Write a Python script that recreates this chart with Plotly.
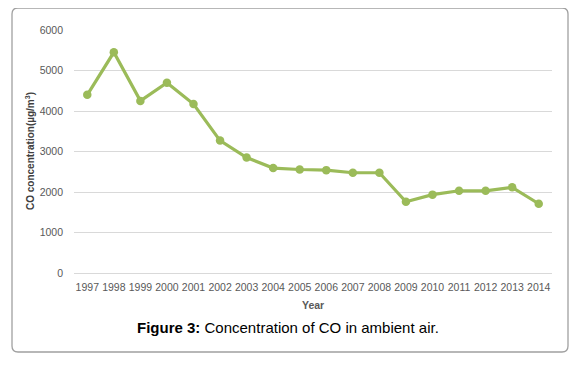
import plotly.graph_objects as go

years = [str(y) for y in range(1997, 2015)]
co_values = [4400, 5450, 4250, 4700, 4170, 3270, 2850, 2590, 2555, 2540, 2475, 2475,
             1760, 1935, 2030, 2030, 2115, 1710]
y_ticks = [0, 1000, 2000, 3000, 4000, 5000, 6000]

# page body has an 8px margin; lay out in page coordinates and compensate
OFF = 8
W, H = 582, 366
PL, PR, PT, PB = 74, 552, 30, 273   # plot area in page pixels
L, T = PL - OFF, PT - OFF
pw, ph = PR - PL, PB - PT
R = W - L - pw
B = H - T - ph

def px(x):
    return (x - PL) / pw

def py(y):
    return (PB - y) / ph

fig = go.Figure()
fig.add_trace(go.Scatter(
    x=years, y=co_values, mode="lines+markers",
    line=dict(color="#9BBB59", width=3.2),
    marker=dict(color="#9BBB59", size=8.5),
    showlegend=False, hoverinfo="x+y",
))

# rounded frame
x0, y0, x1, y1, r = 12, 8, 568, 352, 6
path = (f"M {px(x0+r)},{py(y0)} L {px(x1-r)},{py(y0)} "
        f"Q {px(x1)},{py(y0)} {px(x1)},{py(y0+r)} "
        f"L {px(x1)},{py(y1-r)} Q {px(x1)},{py(y1)} {px(x1-r)},{py(y1)} "
        f"L {px(x0+r)},{py(y1)} Q {px(x0)},{py(y1)} {px(x0)},{py(y1-r)} "
        f"L {px(x0)},{py(y0+r)} Q {px(x0)},{py(y0)} {px(x0+r)},{py(y0)} Z")
fig.add_shape(type="path", path=path, xref="paper", yref="paper",
              line=dict(color="#A0A0A0", width=1.3), layer="below")

FONT = "Liberation Sans, Arial, sans-serif"
tick_font = dict(family=FONT, size=10.5, color="#595959")

fig.update_layout(
    width=W, height=H,
    margin=dict(l=L, r=R, t=T, b=B, autoexpand=False),
    paper_bgcolor="white", plot_bgcolor="white",
    xaxis=dict(
        type="category", range=[-0.5, len(years) - 0.5],
        showgrid=False, showline=False, ticks="", automargin=False,
        tickfont=tick_font, ticklabelstandoff=6, tickangle=0,
    ),
    yaxis=dict(
        range=[0, 6000], tickvals=y_ticks, ticktext=[str(v) for v in y_ticks],
        showgrid=True, gridcolor="#D9D9D9", gridwidth=1, automargin=False,
        zeroline=True, zerolinecolor="#D9D9D9", zerolinewidth=1,
        showline=False, ticks="", tickfont=tick_font, ticklabelstandoff=10,
    ),
    annotations=[
        dict(text="<b>CO concentration(µg/m<sup>3</sup>)</b>", textangle=-90,
             xref="paper", yref="paper", x=px(30), y=py(151),
             xanchor="center", yanchor="middle", showarrow=False,
             font=dict(family=FONT, size=10, color="#404040")),
        dict(text="<b>Year</b>",
             xref="paper", yref="paper", x=px(313), y=py(305),
             xanchor="center", yanchor="middle", showarrow=False,
             font=dict(family=FONT, size=10.5, color="#595959")),
        dict(text="<b>Figure 3:</b> Concentration of CO in ambient air.",
             xref="paper", yref="paper", x=px(288), y=py(327),
             xanchor="center", yanchor="middle", showarrow=False,
             font=dict(family=FONT, size=15, color="black")),
    ],
)

fig.write_html("out.html")
